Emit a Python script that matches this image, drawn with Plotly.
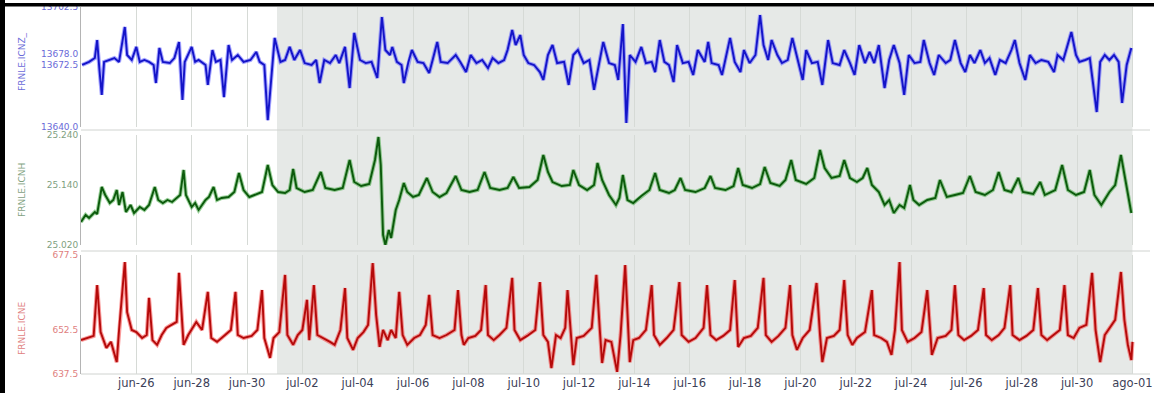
import pandas as pd
import plotly.graph_objects as go

START = pd.Timestamp("2024-06-24 00:00")

# readings as (hours since START, value)
icnz = [(1, 13672.3), (7, 13673.9), (12, 13675.9), (14, 13685.3), (16, 13669.7), (18, 13656.7), (20, 13673.9),
        (25, 13674.9), (29, 13675.9), (33, 13673.9), (38, 13692.1), (40, 13677.5), (44, 13674.9), (48, 13681.7),
        (51, 13673.9), (55, 13674.9), (59, 13673.9), (63, 13672.3), (65, 13662.9), (68, 13681.2), (71, 13673.9),
        (77, 13673.3), (81, 13675.9), (85, 13684.3), (88, 13654.1), (90, 13673.9), (96, 13681.7), (99, 13673.9),
        (102, 13674.9), (108, 13672.3), (110, 13661.9), (114, 13680.1), (117, 13673.9), (121, 13674.9),
        (124, 13655.6), (128, 13682.7), (131, 13674.9), (136, 13677.5), (141, 13673.9), (147, 13674.9),
        (152, 13679.1), (155, 13673.9), (159, 13672.3), (162, 13643.6), (166, 13673.9), (168, 13686.4),
        (173, 13673.9), (177, 13674.9), (181, 13681.7), (185, 13674.9), (190, 13680.1), (194, 13673.3),
        (200, 13672.3), (204, 13674.9), (207, 13662.9), (211, 13674.9), (216, 13673.3), (221, 13677.5),
        (224, 13673.3), (229, 13681.7), (233, 13660.3), (237, 13689.0), (242, 13674.9), (247, 13673.3),
        (252, 13673.9), (257, 13665.5), (261, 13697.3), (264, 13680.1), (268, 13677.5), (270, 13681.7),
        (274, 13673.9), (278, 13672.3), (280, 13662.9), (284, 13673.9), (287, 13680.1), (292, 13673.9),
        (297, 13673.3), (302, 13668.1), (305, 13674.9), (309, 13684.3), (312, 13673.9), (318, 13673.3),
        (325, 13677.5), (329, 13673.9), (334, 13668.6), (338, 13677.5), (343, 13673.3), (348, 13674.9),
        (353, 13670.7), (357, 13675.9), (362, 13673.3), (367, 13674.9), (370, 13680.1), (374, 13690.5),
        (377, 13682.7), (381, 13687.9), (384, 13677.5), (388, 13673.3), (393, 13672.3), (398, 13668.6),
        (401, 13664.5), (405, 13677.5), (409, 13682.7), (413, 13673.3), (419, 13673.9), (423, 13661.9),
        (427, 13677.5), (431, 13680.1), (436, 13673.3), (441, 13674.9), (445, 13659.3), (450, 13674.9),
        (453, 13684.3), (458, 13673.3), (463, 13672.3), (466, 13664.5), (470, 13693.6), (473, 13642.1),
        (476, 13677.5), (481, 13673.9), (486, 13681.7), (490, 13673.3), (495, 13673.9), (498, 13668.6),
        (502, 13685.3), (506, 13673.9), (510, 13672.3), (514, 13663.4), (517, 13682.7), (522, 13673.3),
        (527, 13673.9), (531, 13667.1), (535, 13680.1), (541, 13673.9), (544, 13684.3), (547, 13673.3),
        (553, 13672.3), (556, 13667.1), (560, 13677.5), (563, 13686.4), (567, 13673.9), (572, 13668.6),
        (575, 13680.1), (580, 13673.3), (585, 13677.5), (589, 13698.3), (592, 13682.7), (596, 13674.9),
        (599, 13685.3), (604, 13677.5), (608, 13673.3), (613, 13674.9), (617, 13686.4), (622, 13673.9),
        (626, 13664.5), (629, 13680.1), (634, 13673.3), (639, 13673.9), (643, 13661.9), (648, 13685.3),
        (652, 13673.3), (658, 13672.3), (662, 13680.1), (667, 13673.3), (671, 13667.1), (675, 13682.7),
        (680, 13673.3), (684, 13679.1), (688, 13673.3), (692, 13682.7), (697, 13660.3), (701, 13674.9),
        (705, 13682.7), (710, 13673.3), (714, 13656.7), (718, 13677.5), (723, 13673.3), (728, 13673.9),
        (731, 13685.3), (736, 13673.3), (740, 13667.1), (744, 13677.5), (750, 13673.3), (754, 13674.9),
        (758, 13685.3), (763, 13673.3), (767, 13668.6), (771, 13677.5), (775, 13673.3), (780, 13680.1),
        (784, 13673.3), (788, 13675.9), (793, 13667.1), (797, 13674.9), (802, 13673.3), (807, 13680.1),
        (810, 13685.3), (814, 13673.3), (819, 13664.5), (823, 13677.5), (828, 13673.3), (833, 13674.9),
        (839, 13673.9), (844, 13668.6), (847, 13677.5), (852, 13674.9), (856, 13682.7), (859, 13689.5),
        (863, 13677.5), (866, 13673.9), (871, 13674.9), (875, 13675.9), (881, 13647.8), (884, 13673.9),
        (888, 13677.5), (892, 13674.9), (896, 13677.5), (900, 13673.9), (903, 13652.5), (907, 13672.3),
        (911, 13681.2)]

icnh = [(0, 25.066), (4, 25.080), (7, 25.074), (12, 25.086), (14, 25.082), (18, 25.136), (21, 25.120),
        (25, 25.104), (28, 25.110), (31, 25.130), (33, 25.100), (36, 25.126), (39, 25.086), (43, 25.100),
        (46, 25.084), (51, 25.096), (55, 25.090), (59, 25.100), (64, 25.136), (67, 25.110), (71, 25.104),
        (75, 25.110), (79, 25.106), (83, 25.114), (86, 25.120), (89, 25.170), (91, 25.120), (96, 25.096),
        (99, 25.104), (102, 25.090), (108, 25.110), (111, 25.116), (115, 25.136), (118, 25.110),
        (122, 25.114), (128, 25.116), (133, 25.126), (137, 25.164), (141, 25.130), (146, 25.116),
        (151, 25.120), (157, 25.126), (162, 25.180), (166, 25.140), (171, 25.126), (177, 25.124),
        (181, 25.130), (184, 25.172), (187, 25.134), (194, 25.126), (201, 25.130), (208, 25.166),
        (212, 25.134), (220, 25.130), (227, 25.134), (233, 25.190), (237, 25.146), (243, 25.138),
        (250, 25.142), (255, 25.190), (258, 25.236), (260, 25.180), (262, 25.040), (264, 25.020),
        (267, 25.050), (269, 25.034), (273, 25.090), (276, 25.110), (280, 25.144), (283, 25.126),
        (288, 25.116), (293, 25.120), (300, 25.154), (305, 25.126), (311, 25.116), (317, 25.124),
        (325, 25.158), (330, 25.130), (337, 25.126), (344, 25.130), (350, 25.166), (355, 25.134),
        (363, 25.130), (370, 25.134), (375, 25.156), (380, 25.134), (389, 25.136), (396, 25.150),
        (401, 25.200), (405, 25.166), (409, 25.146), (417, 25.138), (424, 25.140), (427, 25.170),
        (432, 25.140), (439, 25.130), (445, 25.140), (448, 25.184), (452, 25.150), (458, 25.120),
        (464, 25.100), (467, 25.114), (470, 25.160), (474, 25.110), (479, 25.104), (486, 25.118),
        (493, 25.130), (498, 25.164), (502, 25.130), (510, 25.124), (515, 25.130), (520, 25.154),
        (524, 25.130), (533, 25.126), (541, 25.134), (546, 25.158), (550, 25.134), (559, 25.130),
        (566, 25.138), (570, 25.174), (574, 25.140), (582, 25.134), (589, 25.142), (593, 25.176),
        (598, 25.144), (606, 25.138), (611, 25.150), (616, 25.190), (620, 25.150), (629, 25.142),
        (636, 25.154), (641, 25.210), (645, 25.174), (651, 25.154), (658, 25.158), (662, 25.190),
        (667, 25.154), (673, 25.146), (678, 25.154), (682, 25.174), (686, 25.140), (692, 25.126),
        (697, 25.100), (701, 25.110), (705, 25.084), (710, 25.100), (714, 25.094), (719, 25.140),
        (722, 25.110), (727, 25.100), (734, 25.110), (741, 25.114), (745, 25.150), (751, 25.116),
        (758, 25.120), (765, 25.124), (771, 25.158), (776, 25.126), (784, 25.120), (791, 25.130),
        (796, 25.166), (801, 25.130), (807, 25.126), (813, 25.154), (817, 25.126), (826, 25.122),
        (832, 25.146), (836, 25.120), (845, 25.130), (851, 25.180), (856, 25.130), (863, 25.120),
        (870, 25.126), (875, 25.170), (879, 25.120), (885, 25.100), (892, 25.126), (897, 25.140),
        (902, 25.200), (905, 25.160), (908, 25.120), (911, 25.084)]

icne = [(0, 648.9), (6, 649.6), (11, 650.3), (14, 667.4), (17, 651.6), (22, 646.3), (26, 648.3), (31, 641.5),
        (33, 652.3), (38, 675.1), (40, 658.3), (44, 652.3), (48, 651.6), (53, 649.6), (57, 650.6), (59, 663.1),
        (62, 648.9), (66, 647.3), (70, 650.6), (74, 653.0), (78, 654.0), (83, 655.0), (85, 671.5), (89, 647.3),
        (93, 650.6), (100, 655.0), (105, 652.3), (110, 665.1), (113, 649.6), (118, 648.3), (125, 650.6),
        (130, 652.3), (134, 665.1), (136, 650.6), (141, 649.6), (148, 650.3), (153, 652.3), (157, 665.7),
        (159, 649.6), (164, 642.9), (167, 649.6), (172, 651.6), (177, 670.8), (179, 650.6), (184, 647.3),
        (188, 650.6), (192, 652.3), (196, 662.4), (198, 648.9), (202, 667.4), (205, 650.6), (210, 649.6),
        (216, 648.3), (220, 647.3), (225, 652.3), (229, 666.4), (231, 649.6), (236, 645.6), (240, 649.6),
        (245, 651.6), (249, 654.0), (253, 674.8), (256, 657.3), (259, 646.6), (262, 652.3), (266, 648.9),
        (269, 652.3), (273, 649.6), (276, 665.1), (279, 650.6), (283, 647.3), (289, 649.6), (294, 650.6),
        (299, 654.0), (302, 664.1), (305, 650.6), (311, 649.6), (317, 650.6), (324, 652.3), (327, 665.7),
        (330, 650.6), (332, 647.3), (336, 649.6), (342, 650.3), (347, 652.3), (351, 667.4), (353, 650.6),
        (358, 648.9), (363, 650.6), (369, 653.0), (374, 669.8), (376, 652.3), (381, 648.9), (387, 650.3),
        (394, 652.3), (398, 668.4), (401, 650.6), (405, 648.3), (408, 639.5), (412, 650.6), (416, 649.6),
        (420, 653.0), (422, 665.7), (425, 650.6), (427, 640.5), (430, 649.6), (436, 650.3), (443, 653.0),
        (447, 670.8), (450, 652.3), (452, 641.2), (455, 648.9), (460, 648.3), (465, 638.2), (468, 650.6),
        (472, 674.1), (476, 641.5), (479, 648.9), (484, 649.6), (490, 652.3), (495, 667.4), (497, 650.6),
        (502, 647.3), (508, 649.6), (514, 652.3), (519, 668.4), (521, 650.6), (527, 648.3), (533, 649.6),
        (540, 653.0), (543, 667.4), (546, 650.6), (551, 648.9), (557, 650.3), (563, 652.3), (567, 669.1),
        (570, 646.6), (575, 649.6), (581, 650.3), (587, 653.0), (592, 669.8), (594, 650.6), (599, 648.3),
        (605, 650.3), (611, 653.0), (615, 667.4), (617, 650.6), (621, 645.6), (626, 649.6), (632, 652.3),
        (638, 668.1), (641, 650.6), (643, 641.5), (647, 649.6), (653, 650.3), (658, 652.3), (662, 669.1),
        (665, 650.6), (669, 647.3), (673, 649.6), (680, 651.6), (686, 665.7), (688, 650.6), (694, 649.6),
        (699, 648.3), (703, 643.9), (706, 652.3), (710, 675.1), (712, 652.3), (717, 648.3), (723, 649.6),
        (729, 651.6), (734, 665.7), (737, 649.6), (738, 643.9), (743, 649.6), (750, 650.3), (755, 652.3),
        (758, 667.4), (761, 650.6), (766, 648.9), (772, 650.3), (778, 652.3), (783, 666.4), (785, 650.6),
        (790, 648.9), (796, 650.6), (801, 653.0), (806, 667.4), (808, 650.6), (814, 648.9), (820, 650.3),
        (826, 652.3), (830, 666.4), (833, 650.6), (838, 648.9), (844, 650.6), (849, 652.3), (853, 667.4),
        (856, 650.6), (861, 649.6), (866, 653.0), (872, 654.0), (877, 671.5), (880, 652.3), (884, 641.5),
        (888, 650.6), (892, 653.0), (897, 655.7), (902, 671.8), (905, 655.7), (908, 647.3), (911, 642.2),
        (912, 648.3)]

series_names = ["FRNLE.ICNZ_", "FRNLE.ICNH", "FRNLE.ICNE"]
y_ticks = [[13640.0, 13672.5, 13678.0, 13702.5], [25.020, 25.140, 25.240], [637.5, 652.5, 677.5]]
y_ranges = [[13640.0, 13702.5], [25.020, 25.240], [637.5, 677.5]]
tick_labels = ["jun-26", "jun-28", "jun-30", "jul-02", "jul-04", "jul-06", "jul-08", "jul-10", "jul-12",
               "jul-14", "jul-16", "jul-18", "jul-20", "jul-22", "jul-24", "jul-26", "jul-28", "jul-30",
               "ago-01"]
shaded_from = "2024-07-01 02:00"

# ---- layout geometry (pixels) ----
W, H = 1154, 393
ML, MR, MT, MB = 81, 4, 7, 19
PW, PH = W - ML - MR, H - MT - MB
PX_PER_DAY = 27.67
panels_px = [(7, 127), (135, 245), (255, 374)]   # top/bottom pixel rows of each panel


def py(pix):
    return (H - MB - pix) / PH


def px(pix):
    return (pix - ML) / PW


core = ["#1414c8", "#0c5a0c", "#b40a0a"]
halo = ["rgba(90,90,255,0.55)", "rgba(70,170,70,0.55)", "rgba(245,70,70,0.55)"]
label_col = ["#6a6ad8", "#7f9f7f", "#e08080"]
fmt = [".1f", ".3f", ".1f"]

fig = go.Figure()
for i, data in enumerate([icnz, icnh, icne]):
    t = START + pd.to_timedelta([h for h, _ in data], unit="h")
    v = [val for _, val in data]
    ax = "" if i == 0 else str(i + 1)
    fig.add_trace(go.Scatter(x=t, y=v, mode="lines", line=dict(color=halo[i], width=4),
                             xaxis="x" + ax, yaxis="y" + ax, hoverinfo="skip", showlegend=False))
    fig.add_trace(go.Scatter(x=t, y=v, mode="lines", line=dict(color=core[i], width=1.9),
                             xaxis="x" + ax, yaxis="y" + ax, name=series_names[i], showlegend=False))

end_time = START + pd.to_timedelta(icne[-1][0], unit="h")
x_start = START
x_end = START + pd.to_timedelta(PW / PX_PER_DAY, unit="D")
tick_dates = pd.date_range("2024-06-26", periods=len(tick_labels), freq="2D")

layout = dict(width=W, height=H, autosize=False, margin=dict(l=ML, r=MR, t=MT, b=MB, autoexpand=False),
              paper_bgcolor="white", plot_bgcolor="white", showlegend=False)

for i in range(3):
    ax = "" if i == 0 else str(i + 1)
    top, bot = panels_px[i]
    layout["xaxis" + ax] = dict(
        domain=[0, 1], anchor="y" + ax, range=[x_start, x_end], tickvals=tick_dates, ticktext=tick_labels,
        showticklabels=(i == 2), showgrid=True, gridcolor="#d6dad6", gridwidth=1, zeroline=False,
        ticks="", ticklabeloverflow="allow", automargin=False,
        tickfont=dict(family="DejaVu Sans", size=11.5, color="#3c4158"),
        **({} if i == 0 else {"matches": "x"}))
    layout["yaxis" + ax] = dict(
        domain=[py(bot), py(top)], anchor="x" + ax, range=y_ranges[i], tickvals=y_ticks[i],
        tickformat=fmt[i], showgrid=False, zeroline=False, showline=True, linecolor="#b4b4b4",
        linewidth=1, ticks="", automargin=False,
        tickfont=dict(family="DejaVu Sans", size=9, color=label_col[i]))

shapes = [
    dict(type="rect", xref="x", yref="paper", x0=shaded_from, x1=end_time, y0=0, y1=1,
         fillcolor="#e6e9e7", line=dict(width=0), layer="below"),
]
for pix in (130, 251, 374):
    shapes.append(dict(type="line", xref="paper", yref="paper", x0=0, x1=1, y0=py(pix), y1=py(pix),
                       line=dict(color="#d0d3d0", width=1), layer="below"))
# window frame on the left and top edges
shapes.append(dict(type="rect", xref="paper", yref="paper", x0=px(0), x1=px(5), y0=py(H), y1=py(0),
                   fillcolor="black", line=dict(width=0)))
shapes.append(dict(type="rect", xref="paper", yref="paper", x0=px(0), x1=px(W), y0=py(6.5), y1=py(3),
                   fillcolor="black", line=dict(width=0)))
layout["shapes"] = shapes

annotations = []
for i, (top, bot) in enumerate(panels_px):
    centre = [62, 190, 329][i]
    annotations.append(dict(text=series_names[i], xref="paper", yref="paper", x=px(22), y=py(centre),
                            textangle=-90, showarrow=False, xanchor="center", yanchor="middle",
                            font=dict(family="DejaVu Sans", size=9, color=label_col[i])))
layout["annotations"] = annotations

fig.update_layout(**layout)
fig.write_html("out.html")
